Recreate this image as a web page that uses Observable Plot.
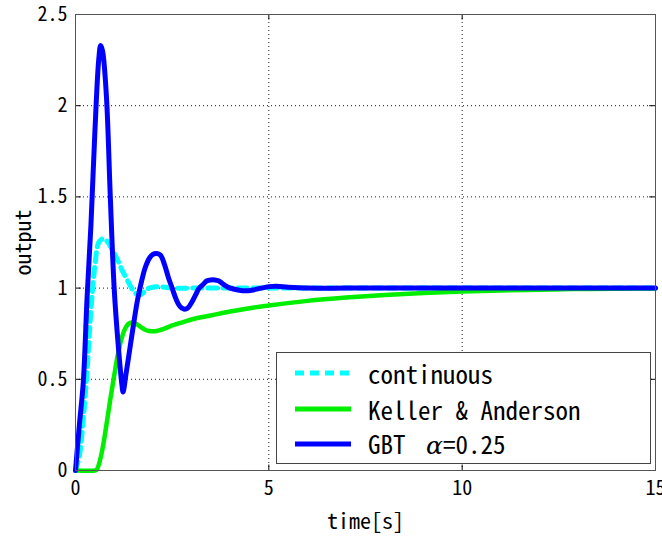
<!DOCTYPE html>
<html>
<head>
<meta charset="utf-8">
<script src="https://cdn.jsdelivr.net/npm/d3@7"></script>
<script src="https://cdn.jsdelivr.net/npm/@observablehq/plot@0.6"></script>
<style>
  body { margin: 0; background: #fff; }
  #wrap { position: relative; width: 662px; height: 538px; font-family: "Noto Sans Mono CJK JP", "Noto Sans CJK JP", "DejaVu Sans Mono", monospace; }
  #legend { position: absolute; left: 276px; top: 352px; width: 375px; height: 112px; border: 1px solid #444; background: #fff; box-sizing: border-box; }
  .row { position: absolute; left: 0; height: 30px; display: flex; align-items: center; }
  .row svg { margin-left: 18px; margin-right: 17px; }
  .row span { font-size: 25px; color: #000; line-height: 30px; }
  .alpha { font-family: "DejaVu Serif", serif; font-style: italic; margin-left: 8px; }
</style>
</head>
<body>
<div id="wrap"></div>
<script>
// ---- data ----
const seriesNames = ["continuous", "Keller & Anderson", "GBT \u03b1=0.25"];
const seriesColors = ["#00ffff", "#00ee00", "#0000ff"];

const tCont = [0, 0.1, 0.2, 0.3, 0.4, 0.5, 0.6, 0.7, 0.8, 0.9, 1.0, 1.1, 1.2, 1.3, 1.4, 1.5, 1.6, 1.7, 1.8, 1.9, 2.1, 2.5, 3, 4, 5, 6, 8, 10, 12, 15];
const yCont = [0, 0.08, 0.28, 0.55, 0.88, 1.12, 1.25, 1.27, 1.26, 1.23, 1.19, 1.15, 1.10, 1.06, 1.02, 0.985, 0.965, 0.965, 0.985, 1.0, 1.008, 1.0, 1.0, 1.0, 1.0, 1.0, 1.0, 1.0, 1.0, 1.0];

const tKA = [0, 0.5, 0.55, 0.6, 0.7, 0.8, 0.9, 1.0, 1.1, 1.2, 1.3, 1.4, 1.5, 1.6, 1.7, 1.8, 1.9, 2.0, 2.1, 2.3, 2.5, 2.8, 3.0, 3.5, 4, 4.5, 5, 6, 7, 8, 9, 10, 11, 12, 13, 14, 15];
const yKA = [0, 0, 0.005, 0.03, 0.12, 0.25, 0.39, 0.52, 0.64, 0.73, 0.785, 0.808, 0.81, 0.80, 0.785, 0.772, 0.765, 0.763, 0.765, 0.778, 0.795, 0.815, 0.828, 0.85, 0.872, 0.89, 0.905, 0.93, 0.948, 0.962, 0.973, 0.981, 0.987, 0.991, 0.995, 0.997, 0.998];

const tGBT = [0, 0.1, 0.2, 0.3, 0.4, 0.5, 0.6, 0.65, 0.7, 0.8, 0.9, 1.0, 1.1, 1.2, 1.23, 1.3, 1.4, 1.5, 1.6, 1.7, 1.8, 1.9, 2.0, 2.1, 2.2, 2.3, 2.4, 2.5, 2.6, 2.7, 2.8, 2.9, 3.0, 3.1, 3.2, 3.3, 3.4, 3.5, 3.6, 3.7, 3.8, 3.9, 4.0, 4.2, 4.4, 4.6, 4.8, 5.0, 5.2, 5.5, 6, 7, 8, 10, 12, 15];
const yGBT = [0, 0.25, 0.48, 0.95, 1.35, 1.85, 2.25, 2.33, 2.3, 2.05, 1.5, 1.0, 0.7, 0.47, 0.43, 0.52, 0.66, 0.8, 0.93, 1.03, 1.11, 1.16, 1.185, 1.19, 1.18, 1.13, 1.06, 1.0, 0.94, 0.9, 0.885, 0.89, 0.92, 0.96, 1.0, 1.02, 1.04, 1.045, 1.045, 1.04, 1.025, 1.01, 1.0, 0.99, 0.985, 0.99, 1.0, 1.008, 1.01, 1.005, 1.0, 1.0, 1.0, 1.0, 1.0, 1.0];

const xTicks = [0, 5, 10, 15];
const yTicks = [0, 0.5, 1, 1.5, 2, 2.5];
const xGrid = [5, 10];
const yGrid = [0.5, 1, 1.5, 2];

const toRows = (ts, ys) => ts.map((t, i) => ({t, y: ys[i]}));
const cont = toRows(tCont, yCont);
const ka = toRows(tKA, yKA);
const gbt = toRows(tGBT, yGBT);

const font = '"Noto Sans Mono CJK JP", "Noto Sans CJK JP", "DejaVu Sans Mono", monospace';

const chart = Plot.plot({
  width: 662,
  height: 538,
  marginLeft: 75,
  marginRight: 7,
  marginTop: 14,
  marginBottom: 68,
  style: {fontFamily: font, fontSize: "20px", color: "#000", background: "#fff", overflow: "visible"},
  x: {domain: [0, 15]},
  y: {domain: [0, 2.5]},
  marks: [
    Plot.gridX(xGrid, {stroke: "#000", strokeOpacity: 0.9, strokeDasharray: "1,3"}),
    Plot.gridY(yGrid, {stroke: "#000", strokeOpacity: 0.9, strokeDasharray: "1,3"}),
    Plot.ruleX(xGrid, {y1: 0, y2: 0.03, stroke: "#000"}),
    Plot.ruleX(xGrid, {y1: 2.5, y2: 2.47, stroke: "#000"}),
    Plot.ruleY(yGrid, {x1: 0, x2: 0.15, stroke: "#000"}),
    Plot.ruleY(yGrid, {x1: 15, x2: 14.85, stroke: "#000"}),
    Plot.axisX(xTicks, {tickSize: 0, tickPadding: 10, fontSize: 20, label: null}),
    Plot.axisY(yTicks, {tickSize: 0, tickPadding: 8, fontSize: 20, label: null, tickFormat: d => String(d)}),
    Plot.line(cont, {x: "t", y: "y", stroke: seriesColors[0], strokeWidth: 5, strokeDasharray: "9,6", curve: "catmull-rom"}),
    Plot.line(ka, {x: "t", y: "y", stroke: seriesColors[1], strokeWidth: 4.5, curve: "catmull-rom"}),
    Plot.line(gbt, {x: "t", y: "y", stroke: seriesColors[2], strokeWidth: 5, curve: "catmull-rom"}),
    Plot.frame({stroke: "#555"}),
    Plot.text(["time[s]"], {frameAnchor: "bottom", dy: 51, lineAnchor: "middle", textAnchor: "middle", fontSize: 22, fill: "#000"}),
    Plot.text(["output"], {frameAnchor: "left", dx: -52, rotate: -90, textAnchor: "middle", lineAnchor: "middle", fontSize: 22, fill: "#000"})
  ]
});

const wrap = document.getElementById("wrap");
wrap.appendChild(chart);

// legend (HTML overlay, opaque like the original)
const legend = document.createElement("div");
legend.id = "legend";
const rowTops = [5, 41, 76];
seriesNames.forEach((name, i) => {
  const row = document.createElement("div");
  row.className = "row";
  row.style.top = rowTops[i] + "px";
  const dash = i === 0 ? 'stroke-dasharray="9,6"' : "";
  row.innerHTML = `<svg width="56" height="10"><line x1="0" y1="5" x2="56" y2="5" stroke="${seriesColors[i]}" stroke-width="5" ${dash}/></svg>`;
  const span = document.createElement("span");
  if (i === 2) {
    span.innerHTML = 'GBT <span class="alpha">\u03b1</span>=0.25';
  } else {
    span.textContent = name;
  }
  row.appendChild(span);
  legend.appendChild(row);
});
wrap.appendChild(legend);
</script>
</body>
</html>
